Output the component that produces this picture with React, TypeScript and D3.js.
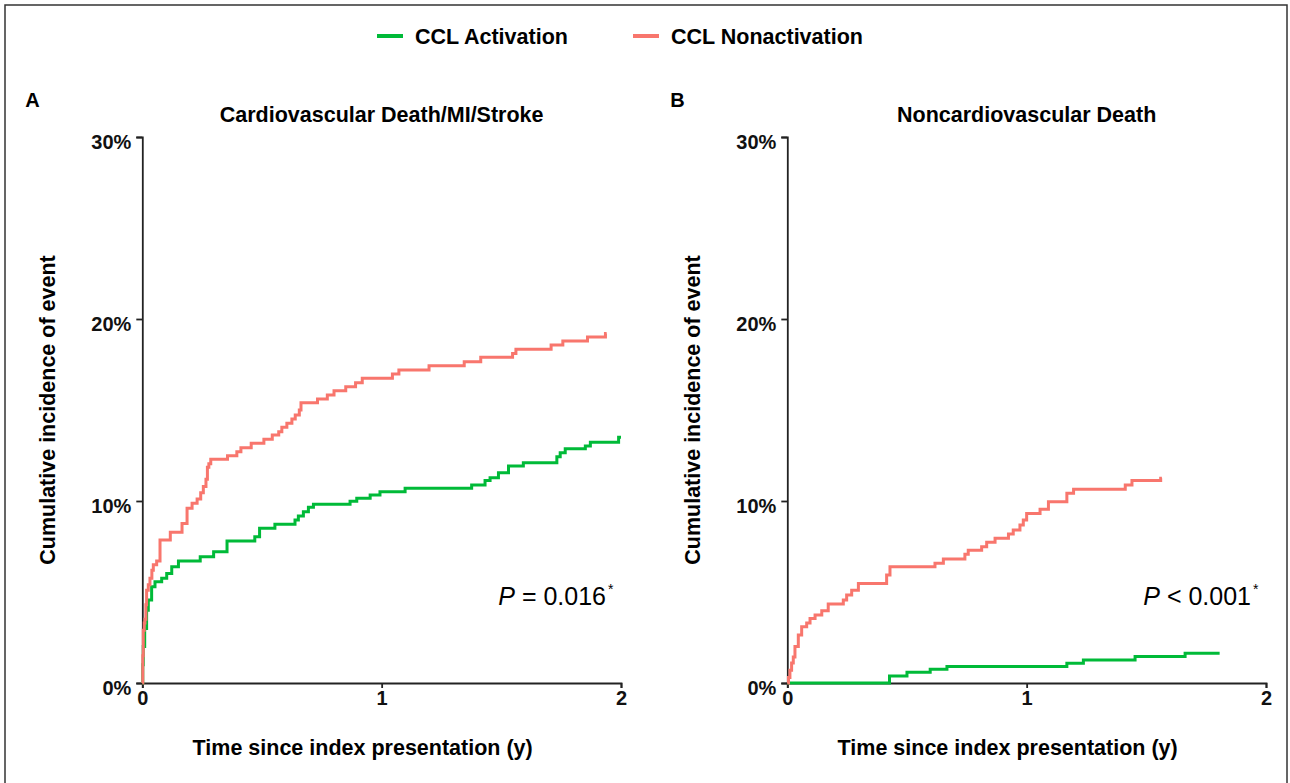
import { useEffect, useRef } from 'react'
import * as d3 from 'd3'

type Pt = [number, number]

// [time in years, cumulative incidence in %]
const redA: Pt[] = [
  [0, 0], [0.002, 1.5], [0.004, 2.9], [0.008, 3.3], [0.011, 3.5], [0.015, 4.3], [0.018, 5.1],
  [0.025, 5.4], [0.032, 5.75], [0.04, 6.2], [0.046, 6.5], [0.06, 6.7], [0.074, 7.86],
  [0.117, 8.28], [0.166, 8.77], [0.187, 9.6], [0.208, 9.87], [0.229, 10.11], [0.244, 10.45],
  [0.255, 10.8], [0.266, 11.2], [0.272, 11.85], [0.278, 12.05], [0.286, 12.29], [0.356, 12.49],
  [0.395, 12.71], [0.412, 12.93], [0.455, 13.17], [0.508, 13.39], [0.543, 13.63], [0.57, 13.81],
  [0.583, 14.05], [0.604, 14.27], [0.625, 14.5], [0.639, 14.73], [0.656, 15.0], [0.663, 15.4],
  [0.732, 15.6], [0.773, 15.82], [0.801, 16.06], [0.85, 16.28], [0.891, 16.5], [0.919, 16.74],
  [1.045, 16.98], [1.072, 17.2], [1.198, 17.43], [1.345, 17.65], [1.414, 17.9], [1.547, 18.1],
  [1.561, 18.34], [1.708, 18.57], [1.757, 18.79], [1.86, 19.01], [1.935, 19.2], [1.94, 19.2],
]

const greenA: Pt[] = [
  [0, 0], [0.002, 1.0], [0.004, 2.0], [0.01, 3.0], [0.018, 4.0], [0.025, 4.56], [0.039, 5.29],
  [0.053, 5.57], [0.081, 5.75], [0.102, 6.02], [0.123, 6.39], [0.151, 6.7], [0.242, 6.94],
  [0.298, 7.21], [0.354, 7.8], [0.47, 8.04], [0.49, 8.5], [0.554, 8.72], [0.638, 8.96],
  [0.652, 9.18], [0.673, 9.41], [0.694, 9.65], [0.715, 9.82], [0.868, 9.98], [0.896, 10.15],
  [0.952, 10.33], [0.993, 10.51], [1.098, 10.7], [1.376, 10.88], [1.432, 11.12], [1.453, 11.28],
  [1.488, 11.55], [1.53, 11.92], [1.592, 12.1], [1.732, 12.43], [1.746, 12.65], [1.767, 12.87],
  [1.851, 13.02], [1.872, 13.23], [1.99, 13.5], [2.0, 13.5],
]

const redB: Pt[] = [
  [0, 0], [0.005, 0.3], [0.011, 0.7], [0.018, 1.1], [0.025, 1.43], [0.032, 2.0], [0.046, 2.64],
  [0.06, 3.09], [0.081, 3.3], [0.095, 3.55], [0.116, 3.74], [0.144, 3.97], [0.171, 4.34],
  [0.234, 4.56], [0.248, 4.84], [0.269, 5.1], [0.297, 5.47], [0.415, 5.93], [0.429, 6.39],
  [0.617, 6.58], [0.652, 6.81], [0.742, 7.07], [0.756, 7.3], [0.812, 7.49], [0.833, 7.73],
  [0.868, 7.95], [0.924, 8.19], [0.944, 8.41], [0.972, 8.68], [0.986, 8.96], [1.0, 9.32],
  [1.056, 9.54], [1.091, 9.96], [1.168, 10.42], [1.196, 10.64], [1.412, 10.88], [1.44, 11.12],
  [1.56, 11.25], [1.565, 11.25],
]

const greenB: Pt[] = [
  [0, 0], [0.427, 0.38], [0.5, 0.59], [0.597, 0.75], [0.667, 0.9], [1.168, 1.08],
  [1.237, 1.26], [1.453, 1.45], [1.662, 1.63], [1.8, 1.72],
]

const xTicks = [0, 1, 2]
const yTicks = [0, 10, 20, 30]
const seriesNames = ['CCL Activation', 'CCL Nonactivation']
const seriesColors = ['#00BA38', '#F8766D']

const panels = [
  { letter: 'A', title: 'Cardiovascular Death/MI/Stroke', red: redA, green: greenA, pLabel: '= 0.016', left: 142.3 },
  { letter: 'B', title: 'Noncardiovascular Death', red: redB, green: greenB, pLabel: '< 0.001', left: 787.3 },
]

const FONT = '"Liberation Sans", Arial, sans-serif'

export default function App() {
  const svgRef = useRef<SVGSVGElement>(null)

  useEffect(() => {
    if (!svgRef.current) return
    document.body.style.margin = '0'
    const width = 1290
    const height = 783
    const svg = d3.select(svgRef.current)
      .attr('width', width)
      .attr('height', height)
      .style('font-family', FONT)
    svg.selectAll('*').remove()

    svg.append('rect')
      .attr('width', width).attr('height', height).attr('fill', 'white')

    // outer frame
    svg.append('rect')
      .attr('x', 5).attr('y', 5)
      .attr('width', 1282).attr('height', 820)
      .attr('fill', 'none')
      .attr('stroke', '#333')
      .attr('stroke-width', 1.5)

    // legend
    const legendX = [377, 633]
    seriesNames.forEach((name, i) => {
      const g = svg.append('g').attr('transform', `translate(${legendX[i]}, 36)`)
      g.append('line')
        .attr('x1', 0).attr('x2', 26)
        .attr('stroke', seriesColors[i])
        .attr('stroke-width', 4)
      g.append('text')
        .attr('x', 38).attr('dy', '0.35em')
        .style('font-size', '21.5px')
        .style('font-weight', '700')
        .text(name)
    })

    const y = d3.scaleLinear().domain([0, 30]).range([683, 137])

    panels.forEach(p => {
      const x = d3.scaleLinear().domain([0, 2]).range([p.left, p.left + 478.7])
      const g = svg.append('g')

      g.append('text')
        .attr('x', p.left - 117).attr('y', 107)
        .style('font-size', '20px')
        .style('font-weight', '700')
        .text(p.letter)

      g.append('text')
        .attr('x', x(1)).attr('y', 122)
        .attr('text-anchor', 'middle')
        .style('font-size', '21.5px')
        .style('font-weight', '700')
        .text(p.title)

      // y axis
      const yAxis = g.append('g')
        .attr('transform', `translate(${p.left}, 0)`)
        .call(d3.axisLeft(y).tickValues(yTicks).tickSize(6).tickFormat(d => `${d}%`))
      yAxis.select('.domain').attr('stroke', '#222').attr('stroke-width', 1.8)
      yAxis.selectAll('.tick line').attr('stroke', '#222').attr('stroke-width', 1.8)
      yAxis.selectAll('.tick text')
        .attr('x', -11)
        .attr('dy', '0.55em')
        .style('font-size', '20px')
        .style('font-weight', '700')
        .style('font-family', FONT)
        .attr('fill', '#111')

      // x axis
      const xAxis = g.append('g')
        .attr('transform', `translate(0, 683)`)
        .call(d3.axisBottom(x).tickValues(xTicks).tickSize(5).tickFormat(d3.format('d')))
      xAxis.select('.domain').attr('stroke', '#222').attr('stroke-width', 1.8)
      xAxis.selectAll('.tick line').attr('stroke', '#222').attr('stroke-width', 1.8)
      xAxis.selectAll('.tick text')
        .attr('y', 8)
        .style('font-size', '20px')
        .style('font-weight', '700')
        .style('font-family', FONT)
        .attr('fill', '#111')

      g.append('text')
        .attr('transform', `translate(${p.left - 95}, ${y(15)}) rotate(-90)`)
        .attr('text-anchor', 'middle')
        .attr('dy', '0.35em')
        .style('font-size', '21.5px')
        .style('font-weight', '700')
        .text('Cumulative incidence of event')

      g.append('text')
        .attr('x', x(1) - 19).attr('y', 755)
        .attr('text-anchor', 'middle')
        .style('font-size', '21.5px')
        .style('font-weight', '700')
        .text('Time since index presentation (y)')

      const line = d3.line<Pt>()
        .x(d => x(d[0]))
        .y(d => y(d[1]))
        .curve(d3.curveStepAfter)

      ;[p.green, p.red].forEach((data, i) => {
        g.append('path')
          .datum(data)
          .attr('d', line)
          .attr('fill', 'none')
          .attr('stroke', seriesColors[i])
          .attr('stroke-width', 3)
      })

      // P value
      const pt = g.append('text')
        .attr('x', x(2) - 15).attr('y', 605)
        .attr('text-anchor', 'end')
        .style('font-size', '25px')
      pt.append('tspan').style('font-style', 'italic').text('P')
      pt.append('tspan').text(` ${p.pLabel}`)
      g.append('text')
        .attr('x', x(2) - 13).attr('y', 594)
        .style('font-size', '14px')
        .text('*')
    })
  }, [])

  return <svg ref={svgRef} style={{ display: 'block' }} />
}
